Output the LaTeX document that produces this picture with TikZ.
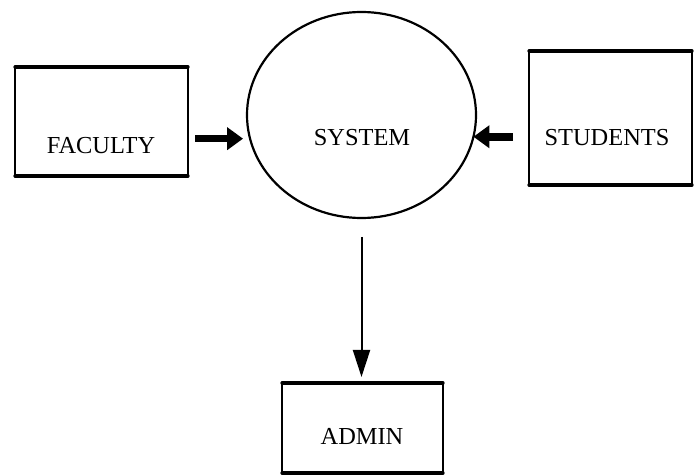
\documentclass[tikz,border=0pt]{standalone}
\usepackage{fontspec}
\setmainfont{Liberation Serif}
\usetikzlibrary{arrows.meta,shapes.geometric}
\begin{document}
\begin{tikzpicture}[
  x=0.5pt, y=-0.5pt,
  font=\fontsize{12.2}{14}\selectfont,
  boxarea/.style={rectangle, inner sep=0pt, outer sep=0pt},
  rimthick/.style={line width=1.6pt, line cap=round},
  rimthin/.style={line width=1pt},
  bubble/.style={ellipse, draw, line width=1.1pt, inner sep=0pt, outer sep=0pt, minimum width=114.5pt, minimum height=103pt},
  fatarrow/.style={line width=3.8pt, -{Triangle[length=8pt,width=11pt]}},
  thinarrow/.style={line width=1pt, -{Triangle[length=13.5pt,width=8.5pt]}}
]
\useasboundingbox (0,0) rectangle (696,475);
% the three entities and the process
\node[boxarea, minimum width=86.5pt, minimum height=54.5pt] (faculty) at (101.5,121.5) {};
\node[boxarea, minimum width=81.5pt, minimum height=67pt] (students) at (610.5,118) {};
\node[boxarea, minimum width=80.5pt, minimum height=45pt] (admin) at (362.5,428) {};
\node[bubble] (system) at (361.5,115) {};
\foreach \b in {faculty,students,admin} {
  \draw[rimthick] (\b.north west) -- (\b.north east);
  \draw[rimthick] (\b.south west) -- (\b.south east);
  \draw[rimthin] (\b.north west) -- (\b.south west);
  \draw[rimthin] (\b.north east) -- (\b.south east);
}
% labels
\node (facultytxt) at (101,146) {FACULTY};
\node (systemtxt) at (362,138) {SYSTEM};
\node (studentstxt) at (607,138) {STUDENTS};
\node (admintxt) at (362,436) {ADMIN};
% flows
\draw[fatarrow, shorten >=3.5pt] ([xshift=3.5pt]faculty.east |- system.192) -- (system.192);
\draw[fatarrow] ([xshift=-8pt]students.west |- system.-11) -- (system.-11);
\draw[thinarrow, shorten <=9.5pt, shorten >=3pt] (system.south) -- (system.south |- admin.north);
\end{tikzpicture}
\end{document}
